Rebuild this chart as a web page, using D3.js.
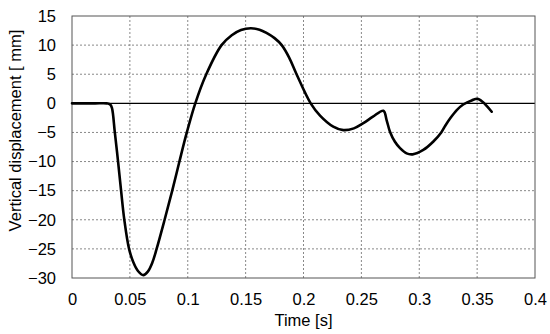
<!DOCTYPE html>
<html>
<head>
<meta charset="utf-8">
<script src="https://cdn.jsdelivr.net/npm/d3@7"></script>
<style>
  html, body { margin: 0; padding: 0; background: #fff; }
  svg { display: block; }
  text { font-family: "Liberation Sans", Arial, sans-serif; fill: #000; }
</style>
</head>
<body>
<svg id="chart" width="550" height="334"></svg>
<script>
const xTicks = [0, 0.05, 0.1, 0.15, 0.2, 0.25, 0.3, 0.35, 0.4];
const yTicks = [-30, -25, -20, -15, -10, -5, 0, 5, 10, 15];
const xLabels = ["0", "0.05", "0.1", "0.15", "0.2", "0.25", "0.3", "0.35", "0.4"];
const xTitle = "Time [s]";
const yTitle = "Vertical displacement [ mm]";

const time = [0, 0.01, 0.02, 0.03, 0.0314, 0.033, 0.0345, 0.0370, 0.0398, 0.0424, 0.0452, 0.0493, 0.0530, 0.0570, 0.0616, 0.0655, 0.0695, 0.0731, 0.0800, 0.0866, 0.0928, 0.0992, 0.1065, 0.1160, 0.1292, 0.138, 0.146, 0.1545, 0.162, 0.168, 0.175, 0.1812, 0.1875, 0.194, 0.2062, 0.2143, 0.2257, 0.2344, 0.2435, 0.2517, 0.260, 0.269, 0.2718, 0.2747, 0.279, 0.2834, 0.2891, 0.2943, 0.3035, 0.312, 0.319, 0.3226, 0.3266, 0.3324, 0.338, 0.3453, 0.351, 0.3626];
const displacement = [0, 0, 0, 0, -0.05, -0.2, -0.8, -5, -10, -15, -20, -25, -27.3, -28.8, -29.5, -28.9, -27.3, -25, -20, -15, -10, -5, 0, 5, 10, 11.7, 12.6, 12.9, 12.65, 12.1, 11.2, 10, 7.9, 5, 0, -2.1, -4.0, -4.6, -4.3, -3.4, -2.3, -1.27, -2.87, -4.87, -6.6, -7.7, -8.6, -8.76, -8.0, -6.6, -5, -3.8, -2.6, -1.15, -0.2, 0.5, 0.75, -1.44];

const svg = d3.select("#chart");
const L = 72, R = 535, T = 16, B = 278;
const x = d3.scaleLinear().domain([0, 0.4]).range([L, R]);
const y = d3.scaleLinear().domain([-30, 15]).range([B, T]);

// grid
const grid = svg.append("g");
grid.selectAll("line.vx").data(xTicks.slice(1, -1)).join("line")
  .attr("x1", d => x(d)).attr("x2", d => x(d)).attr("y1", T).attr("y2", B)
  .attr("stroke", "#888").attr("stroke-width", 1).attr("stroke-dasharray", "2,2");
grid.selectAll("line.hy").data(yTicks.filter(d => d !== 0 && d !== -30 && d !== 15)).join("line")
  .attr("x1", L).attr("x2", R).attr("y1", d => y(d)).attr("y2", d => y(d))
  .attr("stroke", "#888").attr("stroke-width", 1).attr("stroke-dasharray", "2,2");

// zero line
svg.append("line").attr("x1", L).attr("x2", R).attr("y1", y(0)).attr("y2", y(0))
  .attr("stroke", "#000").attr("stroke-width", 1.2);

// frame
svg.append("rect").attr("x", L).attr("y", T).attr("width", R - L).attr("height", B - T)
  .attr("fill", "none").attr("stroke", "#555").attr("stroke-width", 1);

// axes labels via d3 axes
const xAxis = d3.axisBottom(x).tickValues(xTicks).tickSize(0).tickPadding(15)
  .tickFormat((d, i) => xLabels[i]);
const gx = svg.append("g").attr("transform", `translate(0,${B})`).call(xAxis);
gx.select(".domain").remove();
gx.selectAll("text").attr("font-size", 16.5).attr("font-family", "Liberation Sans, Arial, sans-serif").attr("fill", "#000");

const yAxis = d3.axisLeft(y).tickValues(yTicks).tickSize(0).tickPadding(16)
  .tickFormat(d3.format("d"));
const gy = svg.append("g").attr("transform", `translate(${L},0)`).call(yAxis);
gy.select(".domain").remove();
gy.selectAll("text").attr("font-size", 16.5).attr("font-family", "Liberation Sans, Arial, sans-serif").attr("fill", "#000");

// titles
svg.append("text").attr("x", (L + R) / 2).attr("y", 326).attr("text-anchor", "middle")
  .attr("font-size", 16.5).text(xTitle);
svg.append("text").attr("transform", "translate(21,130.5) rotate(-90)").attr("text-anchor", "middle")
  .attr("font-size", 16.5).text(yTitle);

// curve
const data = time.map((t, i) => ({t, v: displacement[i]}));
const line = d3.line().x(d => x(d.t)).y(d => y(d.v)).curve(d3.curveCatmullRom.alpha(0.5));
svg.append("path").datum(data).attr("d", line)
  .attr("fill", "none").attr("stroke", "#000").attr("stroke-width", 2.6)
  .attr("stroke-linejoin", "round").attr("stroke-linecap", "round");
</script>
</body>
</html>
